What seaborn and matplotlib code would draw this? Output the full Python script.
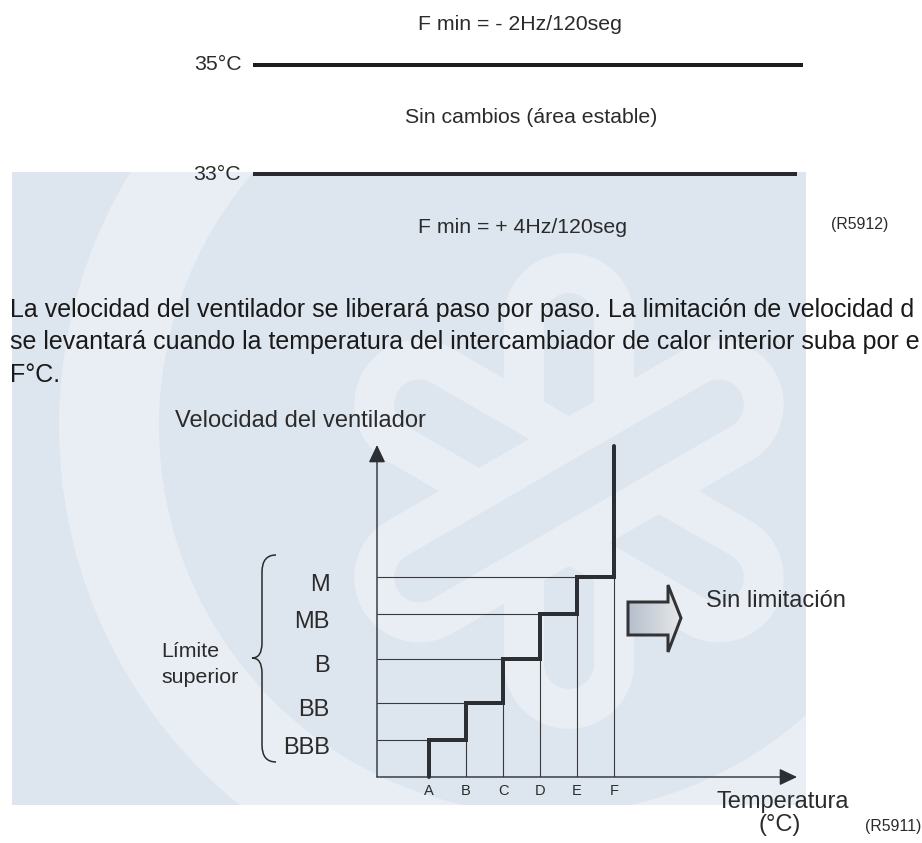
import matplotlib
import matplotlib.pyplot as plt
import matplotlib.transforms as mtransforms
import numpy as np
import seaborn as sns
from matplotlib.patches import Rectangle, Wedge, Polygon, PathPatch
from matplotlib.path import Path

matplotlib.use('Agg')

# datos del diagrama
temp_labels = ["A", "B", "C", "D", "E", "F"]
temp_pos = [1, 2, 3, 4, 5, 6]
speed_labels = ["BBB", "BB", "B", "MB", "M"]
speed_level = [1.0, 2.0, 3.2, 4.4, 5.4]
free_level = 8.95  # sin limitacion despues de F

top_lines = [("35°C", "F min = - 2Hz/120seg"), ("33°C", "F min = + 4Hz/120seg")]
# el texto del original queda cortado en el borde derecho
parrafo = [
    "La velocidad del ventilador se liberará paso por paso. La limitación de velocidad d",
    "se levantará cuando la temperatura del intercambiador de calor interior suba por e",
    "F°C.",
]

sns.set_theme(style="white")
plt.rcParams['font.family'] = ['Liberation Sans', 'DejaVu Sans']

TXT = '#2b2b2b'
BG = '#dde5ee'
LIGHT = '#e9eef4'
px = 0.72  # pixel -> punto a 100 dpi

fig = plt.figure(figsize=(9.22, 8.43), dpi=100)
fig.patch.set_facecolor('white')

# capa de fondo en coordenadas de pixel
bg = fig.add_axes([0, 0, 1, 1], zorder=0)
bg.set_xlim(0, 922)
bg.set_ylim(843, 0)
bg.axis('off')

rect = Rectangle((12, 172), 794, 633, facecolor=BG, edgecolor='none')
bg.add_patch(rect)

# marca de agua (aprox.)
ring = Wedge((547, 426), 488, 0, 360, width=100, facecolor=LIGHT, edgecolor='none')
bg.add_patch(ring)
ring.set_clip_path(rect)
cx, cy, half = 569, 491, 173
for ang in [90, 30, 150]:
    dx, dy = half * np.cos(np.radians(ang)), half * np.sin(np.radians(ang))
    for lw, col in [(130, LIGHT), (50, BG)]:
        ln, = bg.plot([cx - dx, cx + dx], [cy - dy, cy + dy], lw=lw * px, color=col,
                      solid_capstyle='round')
        ln.set_clip_path(rect)

# parte superior
fs_top = 15.3
bg.text(418, 30, top_lines[0][1], fontsize=fs_top, color=TXT, va='baseline')
bg.text(242, 65, top_lines[0][0], fontsize=fs_top, color=TXT, ha='right', va='center')
bg.plot([253, 803], [65, 65], color='#1e1e1e', lw=4 * px, solid_capstyle='butt')
bg.text(405, 123, "Sin cambios (área estable)", fontsize=fs_top, color=TXT, va='baseline')
bg.text(241, 174, top_lines[1][0], fontsize=fs_top, color=TXT, ha='right', va='center')
bg.plot([253, 797], [174, 174], color='#2a2a2e', lw=4 * px, solid_capstyle='butt')
bg.text(418, 233, top_lines[1][1], fontsize=fs_top, color=TXT, va='baseline')
bg.text(831, 225, "(R5912)", fontsize=11.4, color=TXT, va='center')

for i, linea in enumerate(parrafo):
    bg.text(10, 317 + i * 32.5, linea, fontsize=18, color='#1a1a1a', va='baseline')

bg.text(175, 427, "Velocidad del ventilador", fontsize=17, color=TXT, va='baseline')
bg.text(161, 657, "Límite", fontsize=15.4, color=TXT, va='baseline')
bg.text(161, 683, "superior", fontsize=15.4, color=TXT, va='baseline')
bg.text(706, 607, "Sin limitación", fontsize=17, color=TXT, va='baseline')
bg.text(716, 808, "Temperatura", fontsize=17, color=TXT, va='baseline')
bg.text(758, 831, "(°C)", fontsize=17, color=TXT, va='baseline')
bg.text(865, 831, "(R5911)", fontsize=11.4, color=TXT, va='baseline')

# llave
verts = [(276, 555), (262, 555), (262, 572), (262, 643), (262, 658), (252, 658),
         (262, 658), (262, 673), (262, 745), (262, 762), (276, 762)]
codes = [Path.MOVETO, Path.CURVE3, Path.CURVE3, Path.LINETO, Path.CURVE3, Path.CURVE3,
         Path.CURVE3, Path.CURVE3, Path.LINETO, Path.CURVE3, Path.CURVE3]
bg.add_patch(PathPatch(Path(verts, codes), facecolor='none', edgecolor=TXT, lw=1.1))

# flecha hueca
flecha = Polygon([(628, 602), (668, 602), (668, 585), (681, 618), (668, 652), (668, 635), (628, 635)],
                 closed=True, facecolor='none', edgecolor='#333336', lw=3 * px, joinstyle='miter', zorder=3)
bg.add_patch(flecha)
grad = np.linspace(0, 1, 64).reshape(1, -1)
im = bg.imshow(grad, extent=(628, 681, 652, 585), cmap=matplotlib.colors.LinearSegmentedColormap.from_list(
    'g', ['#b5bfcb', '#e6e8ea']), aspect='auto', zorder=2)
im.set_clip_path(flecha)
bg.set_xlim(0, 922)
bg.set_ylim(843, 0)

# diagrama de escalones
ax = fig.add_axes([377 / 922, (843 - 777) / 843, (797 - 377) / 922, (777 - 445) / 843], zorder=2)
ax.patch.set_alpha(0)
x0 = 1 - 52 / 37
ax.set_xlim(x0, 1 + 368 / 37)
ax.set_ylim(0, 332 / 37)
for s in ax.spines.values():
    s.set_visible(False)

for i, lv in enumerate(speed_level):
    ax.hlines(lv, x0, temp_pos[i + 1], color='#3a3a3a', lw=0.8)
    ax.vlines(temp_pos[i + 1], 0, lv, color='#3a3a3a', lw=0.8)

step_x, step_y = [temp_pos[0]], [0]
for i, lv in enumerate(speed_level):
    step_x += [temp_pos[i], temp_pos[i + 1]]
    step_y += [lv, lv]
step_x.append(temp_pos[-1])
step_y.append(free_level)
sns.lineplot(x=step_x, y=step_y, sort=False, estimator=None, ax=ax, color='#2b2e33', lw=4 * px)
ax.lines[-1].set_solid_joinstyle('miter')
ax.lines[-1].set_clip_on(False)

arr = dict(arrowstyle='-|>,head_length=0.4,head_width=0.19', mutation_scale=27,
           color='#2b2e33', lw=1.0, shrinkA=0, shrinkB=0)
ax.annotate('', xy=(x0, 332 / 37), xytext=(x0, 0), arrowprops=arr, annotation_clip=False)
ax.annotate('', xy=(1 + 368 / 37, 0), xytext=(x0, 0), arrowprops=arr, annotation_clip=False)

ax.set_xticks(temp_pos, temp_labels)
ax.set_yticks(speed_level, speed_labels)
ax.tick_params(axis='x', length=0, pad=5, labelsize=10.5, labelcolor=TXT)
ax.tick_params(axis='y', length=0, pad=34, labelsize=17, labelcolor=TXT)
# las etiquetas de nivel van un poco por debajo de su linea
off = mtransforms.ScaledTranslation(0, -5 / 100, fig.dpi_scale_trans)
for lbl in ax.get_yticklabels():
    lbl.set_transform(lbl.get_transform() + off)
ax.set_xlabel('')
ax.set_ylabel('')

plt.savefig('out.png', dpi=100)
